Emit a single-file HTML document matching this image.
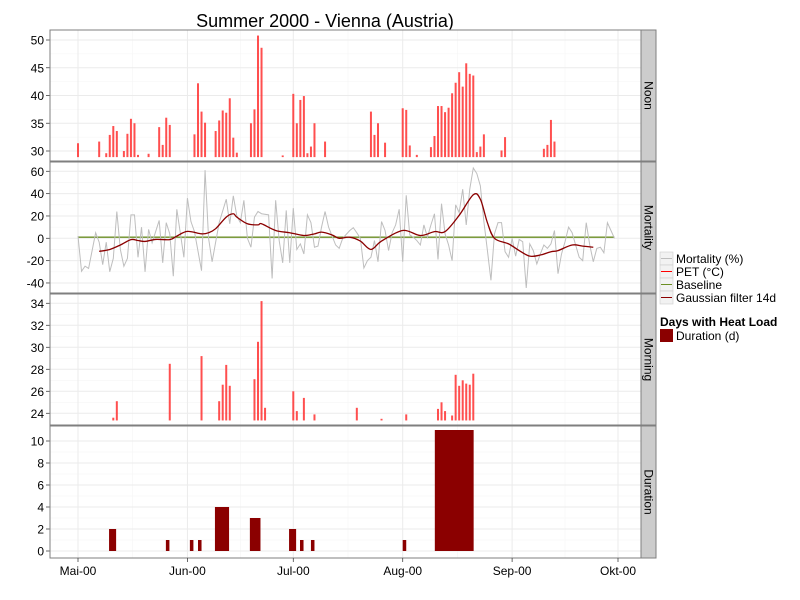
<!DOCTYPE html>
<html><head><meta charset="utf-8"><style>
body{margin:0;background:#fff;}
svg{display:block;font-family:"Liberation Sans",sans-serif;}
</style></head><body>
<svg id="chart" width="800" height="600" viewBox="0 0 800 600">
<rect width="800" height="600" fill="#fff"/>
<text x="325" y="27" text-anchor="middle" font-size="18">Summer 2000 - Vienna (Austria)</text>
<g id="panels"></g>
<g id="legend">
  <g><rect x="660" y="252" width="13" height="13" fill="#f2f2f2" stroke="#ccc" stroke-width="0.6"/><line x1="661" y1="258.5" x2="672" y2="258.5" stroke="#bebebe" stroke-width="1"/><text x="676" y="263" font-size="12">Mortality (%)</text></g>
  <g><rect x="660" y="265" width="13" height="13" fill="#f2f2f2" stroke="#ccc" stroke-width="0.6"/><line x1="661" y1="271.5" x2="672" y2="271.5" stroke="#ff0000" stroke-width="1"/><text x="676" y="276" font-size="12">PET (°C)</text></g>
  <g><rect x="660" y="278" width="13" height="13" fill="#f2f2f2" stroke="#ccc" stroke-width="0.6"/><line x1="661" y1="284.5" x2="672" y2="284.5" stroke="#6b8e23" stroke-width="1"/><text x="676" y="289" font-size="12">Baseline</text></g>
  <g><rect x="660" y="291" width="13" height="13" fill="#f2f2f2" stroke="#ccc" stroke-width="0.6"/><line x1="661" y1="297.5" x2="672" y2="297.5" stroke="#8b0000" stroke-width="1"/><text x="676" y="302" font-size="12">Gaussian filter 14d</text></g>
  <text x="660" y="326" font-size="12" font-weight="bold">Days with Heat Load</text>
  <g><rect x="660" y="329" width="13" height="13" fill="#8b0000"/><text x="676" y="340" font-size="12">Duration (d)</text></g>
</g>
</svg>
<script>
// ---- data (day index: 0 = 1 May 2000) ----
const tickLabels = ["Mai-00","Jun-00","Jul-00","Aug-00","Sep-00","Okt-00"];
const tickDays = [0,31,61,92,123,153];
const noonDays = [0,6,8,9,10,11,13,14,15,16,17,20,23,24,25,26,33,34,35,36,39,40,41,42,43,44,45,49,50,51,52,58,61,62,63,64,65,66,67,70,83,84,85,87,92,93,94,96,100,101,102,103,104,105,106,107,108,109,110,111,112,113,114,115,120,121,132,133,134,135];
const noonVals = [31.4,31.7,29.6,32.9,34.5,33.6,30,33.1,35.8,35,29.3,29.5,34.3,31.1,36,34.7,33,42.2,37.1,35.1,33.6,35.5,37.3,36.9,39.5,32.4,29.7,35,37.5,50.8,48.6,29.2,40.3,35,39.2,39.9,29.6,30.8,35,31.7,37.1,32.9,35,31.5,37.7,37.4,31,29.3,30.7,32.7,38.1,38.1,37,37.8,40.4,42.3,44.2,41.6,45.8,43.9,43.6,29.8,30.8,33,30.1,32.5,30.4,31.1,35.6,31.7];
const mortDays = [0,1,2,3,5,6,7,8,9,10,11,12,13,14,15,16,17,18,19,20,21,23,24,25,26,27,28,30,31,32,33,35,36,37,38,40,42,43,44,45,46,47,48,49,50,51,52,54,55,56,57,58,59,60,61,62,63,64,65,66,67,68,69,70,71,73,74,75,77,78,79,80,81,82,83,84,85,86,87,88,89,90,91,92,93,94,95,96,97,98,99,100,101,102,103,104,105,106,107,108,109,110,111,112,113,114,115,116,117,118,119,120,121,122,123,124,125,126,127,128,129,130,131,132,133,134,135,136,137,138,139,140,141,142,143,144,145,146,147,148,149,150,151,152];
const mortVals = [2,-29.5,-25,-27,5,-3.5,-23.6,-3.5,-30,-18,24,-10,-25,-18,21,21,-17,10,-30,8,-4,16,-22,14,4,-34,26,-17,36,15,6,-29,61,0,-21,14,35,13,38,20,14,34,0,-8,19,24,22,21,-36,34,-2,-22,25,-22,27,-10,-5,-14,21,14,-8,-7,10,24,10,-6,-9,0,7,9.5,5,0,-26.6,-20,-17,-2,-21,15,7,-11,5,12,26,-21,38.5,3,1,-2,-6,12,1,12,22,-19,31,4,-6,-20,30,23,44,12,44,63,58,47,15,-11,-37.6,4,14,14,-12,-17,0,-16,-1,-3,-44.5,-5,-11,-23,-14,-6,-9,-5,7,-31.7,-14,-3,10,5,-6,-17,-20,14,-6,-21,-9,-8,-13,14,7,0];
const smoothDays = [6,9,12,15,17,19,22,26,28,31,35,37,39,42,44,45,48,51,52,56,60,64,67,69,72,74,77,80,83,86,92,97,101,104,108,112,114,116,118,122,125,128,131,134,136,140,143,146];
const smoothVals = [-11.7,-10,-6,-1.2,-2,-2.8,-1,-1.2,2,6.2,4,5,8.6,19,22,19,13,12,13,7,5,2.5,4,5.5,3,0,1,-2.5,-10,-2.5,7,2.5,6,6,20.6,39,35,14,0,-5,-11,-16,-15,-12,-11,-6,-7,-8];
const baselineDays = [0,152];
const baselineVals = [1,1];
const mornDays = [10,11,26,35,40,41,42,43,50,51,52,53,61,62,64,67,79,86,93,102,103,104,106,107,108,109,110,111,112];
const mornVals = [23.6,25.1,28.5,29.2,25.1,26.6,28.4,26.5,27.1,30.5,34.2,24.5,26,24.2,25.4,23.9,24.5,23.5,23.9,24.4,25,24.2,23.8,27.5,26.5,27,26.7,26.6,27.6];
const durStart = [8.8,24.9,31.7,34,38.8,48.7,59.8,62.9,66,92,101.1];
const durLen = [2,1,1,1,4,3,2,1,1,1,11];
const durVals = [2,1,1,1,4,3,2,1,1,1,11];

// ---- layout ----
const NS = "http://www.w3.org/2000/svg";
const PL = 50, PR = 641;
const x = d => 78 + d * 3.5294;
function mk(tag, attrs, parent){ const e = document.createElementNS(NS, tag); for (const k in attrs) e.setAttribute(k, attrs[k]); parent.appendChild(e); return e; }
const root = document.getElementById("panels");
const panels = [
  {name:"noon", label:"Noon", top:30, bot:161, v0:30, y0:151, v1:50, y1:40, ticks:[30,35,40,45,50]},
  {name:"mortality", label:"Mortality", top:162, bot:293, v0:0, y0:238.3, v1:60, y1:171.3, ticks:[-40,-20,0,20,40,60]},
  {name:"morning", label:"Morning", top:294, bot:425, v0:24, y0:413.3, v1:34, y1:303.3, ticks:[24,26,28,30,32,34]},
  {name:"duration", label:"Duration", top:426, bot:558, v0:0, y0:551, v1:10, y1:441, ticks:[0,2,4,6,8,10]}
];
panels.forEach(p => {
  p.y = v => p.y0 + (v - p.v0) * (p.y1 - p.y0) / (p.v1 - p.v0);
  const g = mk("g", {}, root);
  
  
  mk("rect", {x:PL, y:p.top, width:PR-PL, height:p.bot-p.top, fill:"#fff"}, g);
  // minor grid x
  for (let i = 0; i < tickDays.length - 1; i++) {
    const m = (x(tickDays[i]) + x(tickDays[i+1])) / 2;
    mk("line", {x1:m, x2:m, y1:p.top, y2:p.bot, stroke:"#f5f5f5", "stroke-width":0.6}, g);
  }
  const step = p.ticks[1] - p.ticks[0];
  for (let i = 0; i < p.ticks.length - 1; i++) {
    const yy = p.y(p.ticks[i] + step/2);
    mk("line", {x1:PL, x2:PR, y1:yy, y2:yy, stroke:"#f5f5f5", "stroke-width":0.6}, g);
  }
  tickDays.forEach(d => mk("line", {x1:x(d), x2:x(d), y1:p.top, y2:p.bot, stroke:"#ebebeb", "stroke-width":1}, g));
  p.ticks.forEach(t => {
    const yy = p.y(t);
    mk("line", {x1:PL, x2:PR, y1:yy, y2:yy, stroke:"#ebebeb", "stroke-width":1}, g);
    mk("line", {x1:PL-4, x2:PL, y1:yy, y2:yy, stroke:"#444", "stroke-width":0.8}, g);
    const tx = mk("text", {x:PL-6, y:yy+4.5, "text-anchor":"end", "font-size":12, fill:"#000"}, g);
    
    
    tx.textContent = t;
  });
  p.g = g;
});

// noon bars
const pn = panels[0];
noonDays.forEach((d, i) => {
  const r = mk("rect", {x:x(d)-1, y:pn.y(noonVals[i]), width:2, height:pn.y(28.9)-pn.y(noonVals[i]), fill:"#ff3030", opacity:0.85}, pn.g);
  
  
});
// mortality
const pm = panels[1];
const bl = mk("polyline", {points: baselineDays.map((d,i)=>x(d)+","+pm.y(baselineVals[i])).join(" "), fill:"none", stroke:"#6b8e23", "stroke-width":1.3}, pm.g);


const ml = mk("polyline", {points: mortDays.map((d,i)=>x(d)+","+pm.y(mortVals[i])).join(" "), fill:"none", stroke:"#bebebe", "stroke-width":1}, pm.g);


// smooth curve via catmull-rom
let pts = smoothDays.map((d,i)=>[x(d), pm.y(smoothVals[i])]);
let dstr = "M" + pts[0][0] + "," + pts[0][1];
for (let i = 0; i < pts.length - 1; i++) {
  const p0 = pts[Math.max(0,i-1)], p1 = pts[i], p2 = pts[i+1], p3 = pts[Math.min(pts.length-1,i+2)];
  const c1 = [p1[0]+(p2[0]-p0[0])/6, p1[1]+(p2[1]-p0[1])/6];
  const c2 = [p2[0]-(p3[0]-p1[0])/6, p2[1]-(p3[1]-p1[1])/6];
  dstr += " C" + c1.join(",") + " " + c2.join(",") + " " + p2.join(",");
}
const sl = mk("path", {d:dstr, fill:"none", stroke:"#8b0000", "stroke-width":1.3}, pm.g);


// morning bars
const pmo = panels[2];
mornDays.forEach((d, i) => {
  const r = mk("rect", {x:x(d)-1, y:pmo.y(mornVals[i]), width:2, height:pmo.y(23.35)-pmo.y(mornVals[i]), fill:"#ff3030", opacity:0.85}, pmo.g);
  
  
});
// duration
const pd = panels[3];
durStart.forEach((s, i) => {
  const r = mk("rect", {x:x(s), y:pd.y(durVals[i]), width:durLen[i]*3.5294, height:pd.y(0)-pd.y(durVals[i]), fill:"#8b0000"}, pd.g);
  
  
});
// borders and strips
panels.forEach(p => {
  mk("rect", {x:PL, y:p.top, width:PR-PL, height:p.bot-p.top, fill:"none", stroke:"#7f7f7f", "stroke-width":1}, p.g);
  const s = mk("rect", {x:PR, y:p.top, width:15, height:p.bot-p.top, fill:"#cccccc", stroke:"#7f7f7f", "stroke-width":1}, p.g);
  
  
  const cy = (p.top + p.bot) / 2;
  const t = mk("text", {x:0, y:0, "text-anchor":"middle", "font-size":12, transform:`translate(${PR+3.5},${cy}) rotate(90)`}, p.g);
  
  
  t.textContent = p.label;
});
// x axis
const ax = mk("g", {}, root);


tickDays.forEach((d, i) => {
  mk("line", {x1:x(d), x2:x(d), y1:558, y2:562, stroke:"#444", "stroke-width":0.8}, ax);
  const t = mk("text", {x:x(d), y:575, "text-anchor":"middle", "font-size":12}, ax);
  
  
  t.textContent = tickLabels[i];
});
</script>
</body></html>
